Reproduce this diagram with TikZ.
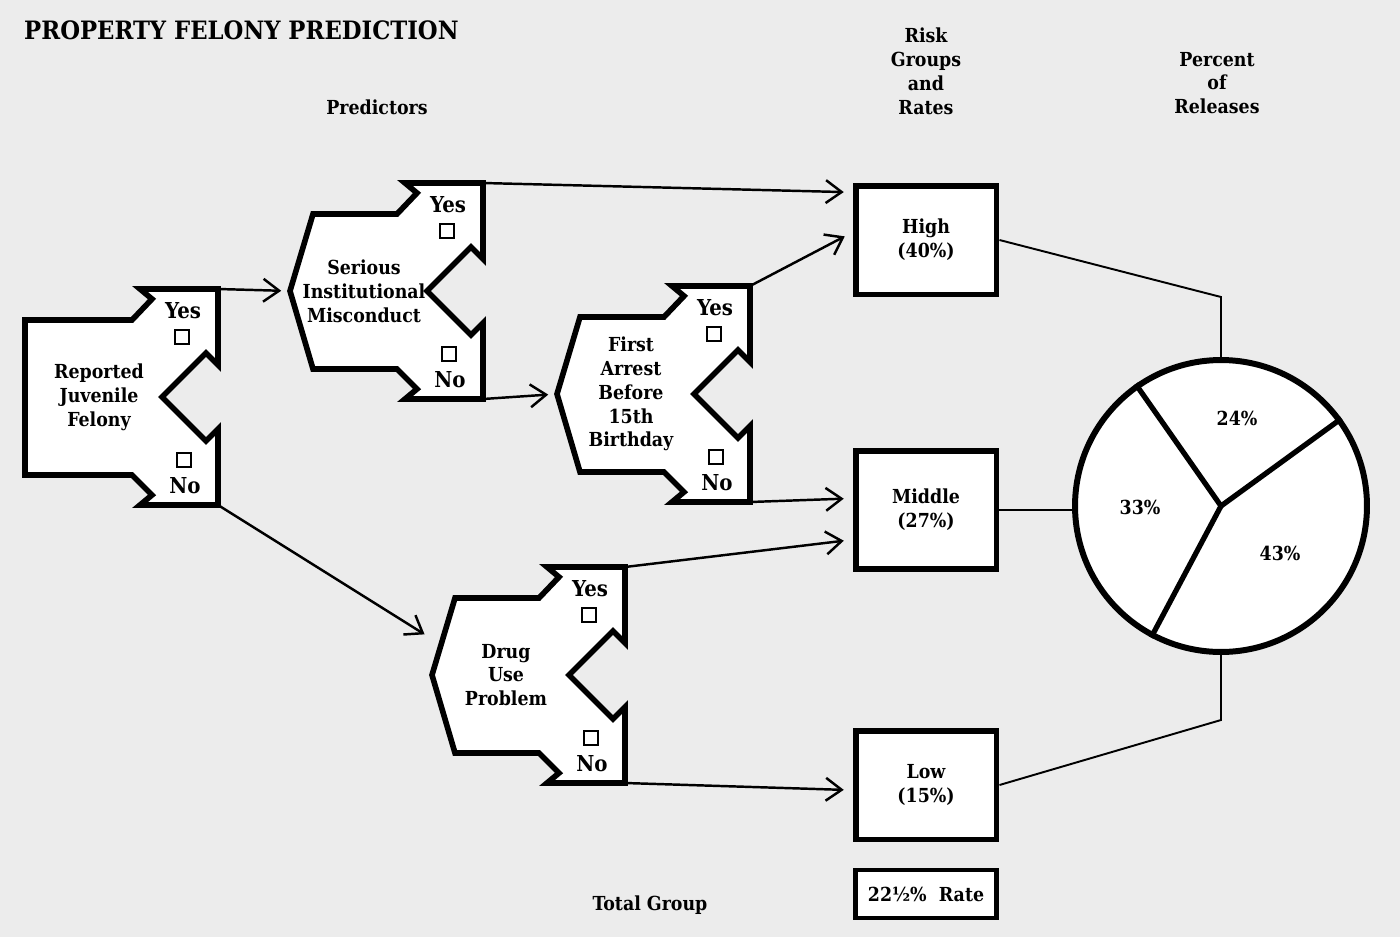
\documentclass[tikz,border=0pt]{standalone}
\usepackage{fontspec}
\setmainfont{DejaVu Serif Condensed}
\usepackage{xcolor}
\definecolor{paper}{RGB}{236,236,236}
\usetikzlibrary{arrows.meta,calc}

\tikzset{
  predbox/.style={draw, line width=3.2pt, fill=white, line join=miter},
  predtext/.style={align=center, font=\fontsize{11}{13.6}\selectfont\bfseries},
  answer/.style={font=\fontsize{12.5}{14}\selectfont\bfseries, inner sep=0pt},
  tickbox/.style={draw, line width=0.6pt, fill=white, minimum size=0.28cm, inner sep=0pt},
  riskbox/.style={draw, line width=3.4pt, fill=white, minimum width=2.82cm, align=center,
    inner sep=0pt, font=\fontsize{11}{13.6}\selectfont\bfseries},
  header/.style={align=center, font=\fontsize{11}{13.6}\selectfont\bfseries},
  link/.style={line width=1.4pt, -{Straight Barb[length=9pt,width=13pt,line width=1.4pt]},
    shorten >=5pt},
  feed/.style={line width=1.1pt},
  pie/.style={circle, draw, line width=3.4pt, fill=white, minimum size=5.84cm, inner sep=0pt},
  spoke/.style={line width=3pt},
}

% one predictor: name, top-right corner, left side, label
\newcommand\predictor[4]{%
  \begin{scope}[shift={#2}]
    \draw[predbox] (0,0) -- (0,76) -- (-12,64) -- (-56,108) -- (-12,152) -- (0,140)
      -- (0,216) -- (-78,216) -- (-66,206) -- (-86,186) -- #3
      -- (-86,31) -- (-66,10) -- (-78,0) -- cycle;
    \node[predtext] (#1) at (-119,108) {#4};
    \node[answer] (#1-yeslabel) at (-35,22) {Yes};
    \node[tickbox] (#1-yesbox) at (-36,48) {};
    \node[tickbox] (#1-nobox) at (-34,171) {};
    \node[answer] (#1-nolabel) at (-33,197) {No};
    \coordinate (#1-yes) at (0,0);
    \coordinate (#1-no) at (0,216);
    \coordinate (#1-in) at (-193,108);
  \end{scope}}

\begin{document}
\begin{tikzpicture}[x=0.02cm, y=-0.02cm]
  % paper
  \fill[paper] (0,0) rectangle (1400,937);
  \useasboundingbox (0,0) rectangle (1400,937);

  % headings
  \node[anchor=west, font=\fontsize{14.4}{16}\selectfont\bfseries] (title) at (18,30)
    {PROPERTY FELONY PREDICTION};
  \node[header] (predhead) at (377,107) {Predictors};
  \node[header] (riskhead) at (926,71) {Risk\\Groups\\and\\Rates};
  \node[header] (pcthead) at (1217,83) {Percent\\of\\Releases};

  % predictors
  \predictor{felony}{(218,289)}{(-193,186) -- (-193,31)}{Reported\\Juvenile\\Felony}
  \predictor{misconduct}{(483,183)}{(-170,186) -- (-193,108) -- (-170,31)}
    {Serious\\Institutional\\Misconduct}
  \predictor{arrest}{(750,286)}{(-170,186) -- (-193,108) -- (-170,31)}
    {First\\Arrest\\Before\\15th\\Birthday}
  \predictor{drug}{(625,567)}{(-170,186) -- (-193,108) -- (-170,31)}
    {Drug\\Use\\Problem}

  % risk groups
  \node[riskbox, minimum height=2.18cm] (high) at (926,240) {High\\(40\%)};
  \node[riskbox, minimum height=2.36cm] (middle) at (926,510) {Middle\\(27\%)};
  \node[riskbox, minimum height=2.18cm] (low) at (926,785) {Low\\(15\%)};
  \node[riskbox, line width=2.6pt, minimum height=0.96cm] (total) at (926,894)
    {22½\%\ \ Rate};
  \node[header] (totallabel) at (650,905) {Total Group};

  % arrows between predictors and groups
  \draw[link] (felony-yes) -- (misconduct-in);
  \draw[link] (felony-no) -- ($(drug-in)+(0,-36)$);
  \draw[link] (misconduct-yes) -- (high.147);
  \draw[link] (misconduct-no) -- (arrest-in);
  \draw[link] (arrest-yes) -- (high.174);
  \draw[link] (arrest-no) -- (middle.171);
  \draw[link] (drug-yes) -- (middle.202);
  \draw[link] (drug-no) -- (low.184);

  % pie of releases
  \node[pie] (pie) at (1221,506) {};
  \draw[spoke] (pie.center) -- (pie.125);
  \draw[spoke] (pie.center) -- (pie.36);
  \draw[spoke] (pie.center) -- (pie.242);
  \node[header] (share24) at (1237,418) {24\%};
  \node[header] (share33) at (1140,507) {33\%};
  \node[header] (share43) at (1280,553) {43\%};

  % groups to pie
  \coordinate (highbend) at (1221,297);
  \coordinate (lowbend) at (1221,720);
  \draw[feed] (high.east) -- (highbend) -- (pie.north);
  \draw[feed] (middle.east) -- (middle.east -| pie.west);
  \draw[feed] (low.east) -- (lowbend) -- (pie.south);
\end{tikzpicture}
\end{document}
